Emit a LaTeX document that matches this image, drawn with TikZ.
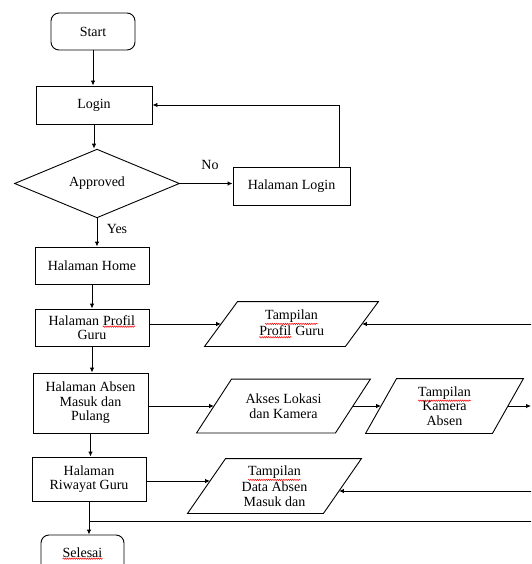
\documentclass[tikz,border=0pt]{standalone}
\usepackage{fontspec}
\setmainfont{Liberation Serif}
\usepackage{xcolor}
\usepackage{tikz}
\usetikzlibrary{calc}
\usetikzlibrary{arrows.meta}
\usetikzlibrary{shapes.geometric}
\usetikzlibrary{decorations.pathmorphing}
\newcommand{\widthbox}{114pt}
\newcommand{\heightbox}{37pt}
\newcommand{\widthio}{173pt}
\newcommand{\typo}[1]{\tikz[baseline=(w.base), sharp corners]{\node[shape=rectangle, draw=none, inner sep=0pt, minimum size=0pt] (w) {#1};
    \draw[red, line width=0.5pt, sharp corners, decorate, decoration={snake, amplitude=0.7pt, segment length=2.2pt}]
        ([yshift=-1.2pt]w.south west) -- ([yshift=-1.2pt]w.south east);}}
\tikzset{
    common/.style={draw, line width=0.9pt, align=center, inner sep=2pt, font=\fontsize{14}{14.5}\selectfont},
    box/.style={common, rectangle, minimum width=\widthbox, minimum height=\heightbox},
    term/.style={box, rounded corners=8pt, minimum width=84pt},
    decision/.style={common, diamond, minimum width=165pt, minimum height=67pt, inner sep=0pt},
    line/.style={line width=0.9pt},
    io/.style={common, rectangle, draw=none, minimum width=\widthio, minimum height=54pt,
        append after command={\pgfextra{\let\ionode\tikzlastnode
            \draw[line] (\ionode.south west) -- ([xshift=#1]\ionode.north west)
                -- (\ionode.north east) -- ([xshift=-#1]\ionode.south east) -- cycle;}}},
    lbl/.style={font=\fontsize{14}{14.5}\selectfont, inner sep=1pt},
    arr/.style={line width=0.9pt, -{Latex[length=5pt,width=4.5pt]}}
}

\begin{document}
\begin{tikzpicture}[x=1pt, y=-1pt]
    \useasboundingbox (0,0) rectangle (531,564);
    \clip (0,0) rectangle (531,564);
    \path
        node[term] (start) at (93,31.5) {Start}
        node[box, minimum width=116pt, minimum height=38pt] (login) at (94,105) {Login}
        node[decision] (appr) at (97,183.5) {Approved}
        node[box, minimum width=117pt, minimum height=38pt] (hlogin) at (291.5,186) {Halaman Login}
        node[box] (home) at (92,265.5) {Halaman Home}
        node[box] (profil) at (92,327.5) {Halaman \typo{Profil}\\Guru}
        node[io=33pt, minimum height=44pt] (tprofil) at (291.5,324) {\typo{Tampilan}\\\typo{Profil} Guru}
        node[box, minimum width=115pt, minimum height=60pt] (absen) at (90.5,403) {Halaman Absen\\Masuk dan\\Pulang}
        node[io=35pt, minimum height=53pt] (akses) at (283.5,406) {Akses Lokasi\\dan Kamera}
        node[io=31pt, minimum width=157pt] (kamera) at (444.5,406) {\typo{Tampilan}\\Kamera\\Absen}
        node[box, minimum height=44pt] (riwayat) at (89,479) {Halaman\\Riwayat Guru}
        node[io=38pt] (tdata) at (274.5,486) {\typo{Tampilan}\\Data Absen\\Masuk dan}
        node[term, minimum width=83pt] (selesai) at (82.5,553.5) {\typo{Selesai}};
    \node[lbl] (no) at (210,165) {No};
    \node[lbl] (yes) at (117,229) {Yes};

    % ends off the right edge
    \coordinate (rprofil) at (540,324);
    \coordinate (rkamera) at (531,406);
    \coordinate (rdata) at (540,491);
    \coordinate (rback) at (540,521);
    % points on the slanted sides
    \coordinate (profilIn) at ([xshift=16.5pt]tprofil.west);
    \coordinate (profilBack) at ([xshift=-16.5pt]tprofil.east);
    \coordinate (aksesIn) at ([xshift=17.5pt]akses.west);
    \coordinate (aksesOut) at ([xshift=-17.5pt]akses.east);
    \coordinate (kameraIn) at ([xshift=15.5pt]kamera.west);
    \coordinate (kameraOut) at ([xshift=-15.5pt]kamera.east);
    \coordinate (dataIn) at ([xshift=22.5pt, yshift=5pt]tdata.west);
    \coordinate (dataBack) at ([xshift=-22.5pt, yshift=-5pt]tdata.east);

    \draw[arr] (start) -- (start |- login.north);
    \draw[arr] (login) -- (login |- appr.north);
    \draw[arr] (appr) -- (appr |- home.north);
    \draw[arr] (appr) -- (appr -| hlogin.west);
    \draw[arr] ([xshift=-11pt]hlogin.north east) |- (login.east);
    \draw[arr] (home) -- (home |- profil.north);
    \draw[arr] (profil.east |- profilIn) -- (profilIn);
    \draw[arr] (rprofil |- profilBack) -- (profilBack);
    \draw[arr] (profil) -- (profil |- absen.north);
    \draw[arr] (absen.east |- aksesIn) -- (aksesIn);
    \draw[arr] (aksesOut) -- (kameraIn);
    \draw[arr] (kameraOut) -- (rkamera |- kameraOut);
    \draw[arr] (absen) -- (absen |- riwayat.north);
    \draw[arr] (riwayat.east |- dataIn) -- (dataIn);
    \draw[arr] (rdata |- dataBack) -- (dataBack);
    \draw[line] (rback) -- (rback -| riwayat);
    \draw[arr] (riwayat) -- (riwayat |- selesai.north);
\end{tikzpicture}
\end{document}
